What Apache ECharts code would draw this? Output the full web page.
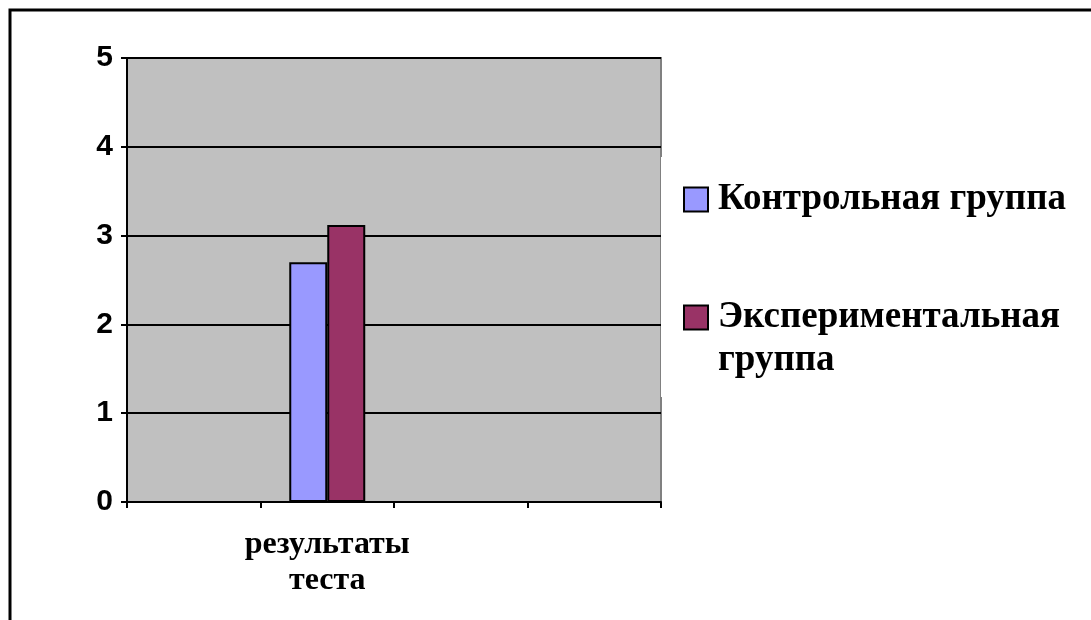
<!DOCTYPE html>
<html>
<head>
<meta charset="utf-8">
<script src="https://cdn.jsdelivr.net/npm/echarts@6/dist/echarts.min.js"></script>
<style>html,body{margin:0;padding:0;background:#fff;}#c{width:1091px;height:620px;}</style>
</head>
<body>
<div id="c"></div>
<script>
const categories = ['', 'результаты\nтеста', '', ''];
const seriesNames = ['Контрольная группа', 'Экспериментальная группа'];
const controlValues = [null, 2.7, null, null];
const experimentalValues = [null, 3.12, null, null];
const yTicks = [0, 1, 2, 3, 4, 5];

const chart = echarts.init(document.getElementById('c'), null, {renderer: 'canvas'});
const option = {
  animation: false,
  backgroundColor: '#fff',
  graphic: [{
    type: 'rect', z: 100, silent: true,
    shape: {x: 10, y: 10, width: 1400, height: 900},
    style: {fill: 'none', stroke: '#000', lineWidth: 3}
  }],
  grid: {
    left: 127, right: 430, top: 58, bottom: 118,
    show: true, backgroundColor: '#c0c0c0', borderColor: '#808080', borderWidth: 2
  },
  legend: {
    orient: 'vertical',
    left: 661, top: 157,
    padding: [21, 10, 15, 22],
    backgroundColor: '#fff',
    itemGap: 32,
    itemWidth: 24, itemHeight: 24,
    icon: 'rect',
    selectedMode: false,
    itemStyle: {borderColor: '#000', borderWidth: 2},
    textStyle: {fontFamily: '"Liberation Serif", "Times New Roman", serif', fontWeight: 'bold', fontSize: 37, color: '#000', lineHeight: 43, padding: [0, 0, 0, 5]},
    data: [seriesNames[0], seriesNames[1]],
    formatter: function (name) { return name === seriesNames[1] ? '\nЭкспериментальная\nгруппа' : name; }
  },
  xAxis: {
    type: 'category',
    data: categories,
    boundaryGap: true,
    axisLine: {lineStyle: {color: '#000', width: 2}},
    axisTick: {show: true, length: 6, interval: 0, lineStyle: {color: '#000', width: 2}},
    axisLabel: {interval: 0, margin: 25, color: '#000', fontFamily: '"Liberation Serif", "Times New Roman", serif', fontWeight: 'bold', fontSize: 32, lineHeight: 36},
    splitLine: {show: false}
  },
  yAxis: {
    type: 'value',
    min: yTicks[0], max: yTicks[yTicks.length - 1], interval: 1,
    axisLine: {show: true, lineStyle: {color: '#000', width: 2}},
    axisTick: {show: true, length: 6, lineStyle: {color: '#000', width: 2}},
    axisLabel: {margin: 14, color: '#000', fontFamily: '"Liberation Sans", Arial, sans-serif', fontWeight: 'bold', fontSize: 30},
    splitLine: {show: true, lineStyle: {color: '#000', width: 2}}
  },
  series: [
    {name: seriesNames[0], type: 'bar', data: controlValues, barWidth: 38, barGap: '0%',
     itemStyle: {color: '#9999ff', borderColor: '#000', borderWidth: 2}},
    {name: seriesNames[1], type: 'bar', data: experimentalValues, barWidth: 38, barGap: '0%',
     itemStyle: {color: '#993366', borderColor: '#000', borderWidth: 2}}
  ]
};
chart.setOption(option);
</script>
</body>
</html>
